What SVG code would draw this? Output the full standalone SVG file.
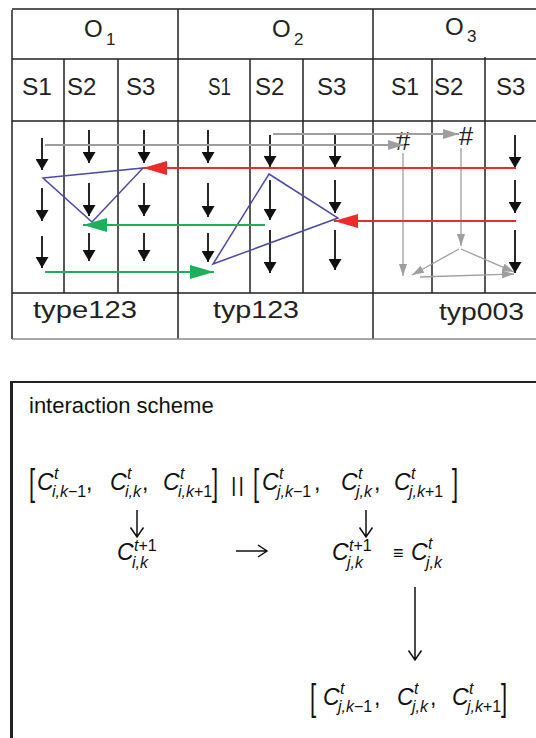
<svg xmlns="http://www.w3.org/2000/svg" width="536" height="738" viewBox="0 0 536 738">
<style>
.tl{stroke:#222;stroke-width:1.5;fill:none}
.hd{font-family:"Liberation Sans",Arial,sans-serif;fill:#222}
.mi{font-family:"Liberation Sans",Arial,sans-serif;font-style:italic;fill:#111}
.mn{font-family:"Liberation Sans",Arial,sans-serif;font-style:normal;fill:#111}
.blk{stroke:#111;stroke-width:1.8;fill:none;marker-end:url(#mb)}
.gry{stroke:#9e9e9e;stroke-width:2;fill:none;marker-end:url(#mg)}
.gry2{stroke:#9e9e9e;stroke-width:1.3;fill:none;marker-end:url(#mg2)}
.red{stroke:#ee2b2b;stroke-width:2;fill:none;marker-end:url(#mr)}
.grn{stroke:#1fae5a;stroke-width:2;fill:none;marker-end:url(#mgr)}
.blu{stroke:#4a4aa6;stroke-width:1.5;fill:none}
.ma{stroke:#111;stroke-width:1.5;fill:none}
.c{font-size:23px}
.s{font-size:16px}
</style>
<defs>
<marker id="mb" markerUnits="userSpaceOnUse" markerWidth="11" markerHeight="13" refX="11" refY="6.5" orient="auto"><path d="M0,0 L11,6.5 L0,13 z" fill="#111"/></marker>
<marker id="mg" markerUnits="userSpaceOnUse" markerWidth="16" markerHeight="10" refX="16" refY="5" orient="auto"><path d="M0,0 L16,5 L0,10 z" fill="#9e9e9e"/></marker>
<marker id="mg2" markerUnits="userSpaceOnUse" markerWidth="12" markerHeight="8" refX="12" refY="4" orient="auto"><path d="M0,0 L12,4 L0,8 z" fill="#9e9e9e"/></marker>
<marker id="mr" markerUnits="userSpaceOnUse" markerWidth="24" markerHeight="14" refX="24" refY="7" orient="auto"><path d="M0,0 L24,7 L0,14 z" fill="#ee2b2b"/></marker>
<marker id="mgr" markerUnits="userSpaceOnUse" markerWidth="24" markerHeight="14" refX="24" refY="7" orient="auto"><path d="M0,0 L24,7 L0,14 z" fill="#1fae5a"/></marker>
</defs>
<rect width="536" height="738" fill="#fff"/>

<g id="table">
<path class="tl" d="M12,9 H536 M12,10 V339 M12,59 H536 M12,121 H536 M12,293 H536 M178,9 V339 M373,9 V339 M64,59 V293 M118,59 V293 M250,59 V293 M303,59 V293 M432,59 V293 M485,57 V293"/>
<path d="M12,339 H536" stroke="#8a8a8a" stroke-width="1.5"/>
</g>

<g id="headers">
<text class="hd" x="84" y="37" font-size="24">O</text><text class="hd" x="106" y="45" font-size="17">1</text>
<text class="hd" x="272" y="37" font-size="24">O</text><text class="hd" x="294" y="45" font-size="17">2</text>
<text class="hd" x="445" y="35" font-size="24">O</text><text class="hd" x="467" y="42" font-size="17">3</text>
</g>
<g id="states" class="hd" font-size="24">
<text x="22" y="95" textLength="30" lengthAdjust="spacingAndGlyphs">S1</text>
<text x="67" y="95">S2</text>
<text x="126" y="95">S3</text>
<text x="208" y="95" textLength="23" lengthAdjust="spacingAndGlyphs">S1</text>
<text x="255" y="95">S2</text>
<text x="317" y="95">S3</text>
<text x="391" y="95" textLength="28" lengthAdjust="spacingAndGlyphs">S1</text>
<text x="434" y="95">S2</text>
<text x="496" y="95">S3</text>
</g>
<g id="types" class="hd" font-size="23">
<text x="33" y="318" textLength="104" lengthAdjust="spacingAndGlyphs">type123</text>
<text x="213" y="318" textLength="86" lengthAdjust="spacingAndGlyphs">typ123</text>
<text x="439" y="320" textLength="85" lengthAdjust="spacingAndGlyphs">typ003</text>
</g>

<g id="steps">
<line class="blk" x1="42" y1="138" x2="42" y2="170"/><line class="blk" x1="42" y1="188" x2="42" y2="221"/><line class="blk" x1="42" y1="236" x2="42" y2="268"/>
<line class="blk" x1="89" y1="130" x2="89" y2="163"/><line class="blk" x1="89" y1="183" x2="89" y2="216"/><line class="blk" x1="89" y1="233" x2="89" y2="261"/>
<line class="blk" x1="144" y1="130" x2="144" y2="163"/><line class="blk" x1="144" y1="183" x2="144" y2="216"/><line class="blk" x1="144" y1="233" x2="144" y2="261"/>
<line class="blk" x1="208" y1="130" x2="208" y2="163"/><line class="blk" x1="208" y1="183" x2="208" y2="217"/><line class="blk" x1="208" y1="233" x2="208" y2="262"/>
<line class="blk" x1="270" y1="135" x2="270" y2="167"/><line class="blk" x1="270" y1="180" x2="270" y2="220"/><line class="blk" x1="270" y1="230" x2="270" y2="273"/>
<line class="blk" x1="335" y1="135" x2="335" y2="167"/><line class="blk" x1="335" y1="180" x2="335" y2="213"/><line class="blk" x1="335" y1="230" x2="335" y2="270"/>
<line class="blk" x1="515" y1="135" x2="515" y2="168"/><line class="blk" x1="515" y1="180" x2="515" y2="213"/><line class="blk" x1="515" y1="230" x2="515" y2="273"/>
</g>

<g id="marks" class="hd" font-size="26">
<text x="403" y="150" text-anchor="middle">#</text>
<text x="466" y="145" text-anchor="middle">#</text>
</g>

<g id="triangles">
<path class="blu" d="M43,178 L143,168 L92,222 Z"/>
<path class="blu" d="M269,174 L338,218 L213,264 Z"/>
</g>

<g id="connectors">
<path class="gry" d="M45,145 H404"/>
<path class="gry" d="M273,134 H459"/>
<path class="gry2" d="M403,153 V276"/>
<path class="gry2" d="M461,148 V246"/>
<path class="gry2" d="M459,249 L412,275"/>
<path class="gry2" d="M461,249 L514,272"/>
<path class="gry2" d="M420,277 L514,274"/>
<path class="red" d="M516,168 H143"/>
<path class="red" d="M516,221 H334"/>
<path class="grn" d="M265,225 H83"/>
<path class="grn" d="M45,272 H214"/>
</g>

<g id="scheme">
<path d="M10,382 H536" stroke="#222" stroke-width="2"/>
<path d="M11.5,381 V738" stroke="#222" stroke-width="3"/>
<text class="mn" x="29" y="413" font-size="22">interaction scheme</text>
</g>

<g id="formula-row1">
<text class="mn" transform="translate(29,495) scale(1,1.65)" font-size="22">[</text>
<text class="mi c" x="37" y="490">C</text><text class="mi s" x="54" y="479">t</text><text class="mi s" x="52" y="497">i,k<tspan class="mn">−1</tspan></text><text class="mn c" x="86" y="490">,</text>
<text class="mi c" x="110" y="490">C</text><text class="mi s" x="127" y="479">t</text><text class="mi s" x="125" y="497">i,k</text><text class="mn c" x="142" y="490">,</text>
<text class="mi c" x="163" y="490">C</text><text class="mi s" x="180" y="479">t</text><text class="mi s" x="178" y="497">i,k<tspan class="mn">+1</tspan></text>
<text class="mn" transform="translate(212,495) scale(1,1.65)" font-size="22">]</text>
<text class="mn" x="231" y="492" font-size="21" letter-spacing="2">||</text>
<text class="mn" transform="translate(253,495) scale(1,1.65)" font-size="22">[</text>
<text class="mi c" x="262" y="490">C</text><text class="mi s" x="279" y="479">t</text><text class="mi s" x="277" y="497">j,k<tspan class="mn">−1</tspan></text><text class="mn c" x="314" y="490">,</text>
<text class="mi c" x="341" y="490">C</text><text class="mi s" x="358" y="479">t</text><text class="mi s" x="356" y="497">j,k</text><text class="mn c" x="374" y="490">,</text>
<text class="mi c" x="394" y="490">C</text><text class="mi s" x="411" y="479">t</text><text class="mi s" x="409" y="497">j,k<tspan class="mn">+1</tspan></text>
<text class="mn" transform="translate(452,495) scale(1,1.65)" font-size="22">]</text>
</g>

<g id="formula-arrows">
<path class="ma" d="M137,510 V537 M130.5,527.5 L137,537 L143.5,527.5"/>
<path class="ma" d="M366,510 V537 M359.5,527.5 L366,537 L372.5,527.5"/>
<path class="ma" d="M236,551 H267 M258,545 L267,551 L258,557"/>
<path class="ma" d="M415,587 V660 M408.5,650.5 L415,660 L421.5,650.5"/>
</g>

<g id="formula-row2">
<text class="mi c" x="117" y="560">C</text><text class="mi s" x="134" y="551">t<tspan class="mn">+1</tspan></text><text class="mi s" x="132" y="568">i,k</text>
<text class="mi c" x="332" y="560">C</text><text class="mi s" x="349" y="551">t<tspan class="mn">+1</tspan></text><text class="mi s" x="347" y="568">j,k</text>
<text class="mn" x="393" y="559" font-size="18">≡</text>
<text class="mi c" x="411" y="560">C</text><text class="mi s" x="428" y="549">t</text><text class="mi s" x="426" y="568">j,k</text>
</g>

<g id="formula-row3">
<text class="mn" transform="translate(310,710) scale(1,1.65)" font-size="22">[</text>
<text class="mi c" x="323" y="705">C</text><text class="mi s" x="340" y="694">t</text><text class="mi s" x="338" y="712">j,k<tspan class="mn">−1</tspan></text><text class="mn c" x="374" y="705">,</text>
<text class="mi c" x="397" y="705">C</text><text class="mi s" x="414" y="694">t</text><text class="mi s" x="412" y="712">j,k</text><text class="mn c" x="430" y="705">,</text>
<text class="mi c" x="452" y="705">C</text><text class="mi s" x="469" y="694">t</text><text class="mi s" x="467" y="712">j,k<tspan class="mn">+1</tspan></text>
<text class="mn" transform="translate(501,710) scale(1,1.65)" font-size="22">]</text>
</g>
</svg>
